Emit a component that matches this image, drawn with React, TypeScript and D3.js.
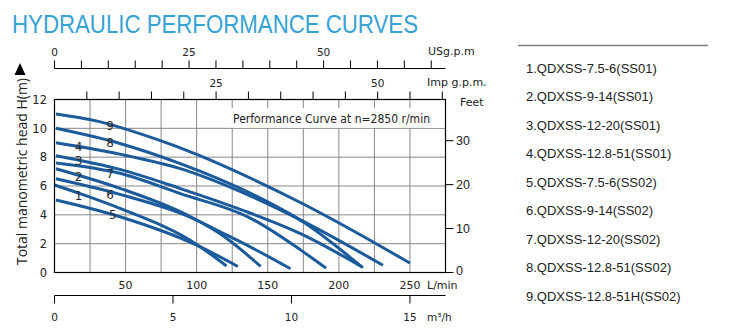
import React from 'react';
import * as d3 from 'd3';

const W = 734;
const H = 330;

// ---- data (Q in L/min, H in m) ----
const curve1: [number, number][] = [[0, 6.07], [20, 5.4], [46, 4.45], [100, 1.95], [121, 0.45]];
const curve2: [number, number][] = [[1, 7.2], [46, 5.84], [95, 3.9], [120, 2.45], [145, 0.42]];
const curve3: [number, number][] = [[1, 8.1], [46, 7.15], [88, 5.84], [138, 4.11], [173, 2.7], [217, 0.35]];
const curve4: [number, number][] = [[1, 9.0], [46, 8.21], [88, 7.22], [138, 5.3], [175, 3.55], [231, 0.5]];
const curve5: [number, number][] = [[1, 5.03], [46, 3.87], [100, 1.9], [129, 0.42]];
const curve6: [number, number][] = [[1, 6.5], [46, 5.42], [95, 3.86], [120, 2.65], [138, 1.76], [166, 0.26]];
const curve7: [number, number][] = [[1, 7.6], [46, 6.88], [88, 5.49], [138, 3.76], [173, 1.57], [191, 0.3]];
const curve8: [number, number][] = [[1, 10.0], [46, 8.95], [88, 7.57], [138, 5.49], [175, 3.5], [216, 0.4]];
const curve9: [number, number][] = [[1, 11.0], [30, 10.5], [70, 9.3], [100, 8.2], [140, 6.45], [175, 4.75], [210, 2.9], [250, 0.65]];
const curves = [curve1, curve2, curve3, curve4, curve5, curve6, curve7, curve8, curve9];

const curveLabels = ['1', '2', '3', '4', '5', '6', '7', '8', '9'];
const labelQ = [17, 17, 17, 17, 41, 39, 39, 39, 39];
const labelH = [5.33, 6.64, 7.75, 8.72, 3.99, 5.43, 6.83, 9.02, 10.2];

const legendLabels = [
  '1.QDXSS-7.5-6(SS01)',
  '2.QDXSS-9-14(SS01)',
  '3.QDXSS-12-20(SS01)',
  '4.QDXSS-12.8-51(SS01)',
  '5.QDXSS-7.5-6(SS02)',
  '6.QDXSS-9-14(SS02)',
  '7.QDXSS-12-20(SS02)',
  '8.QDXSS-12.8-51(SS02)',
  '9.QDXSS-12.8-51H(SS02)',
];

const headTicks = [0, 2, 4, 6, 8, 10, 12];
const feetTicks = [0, 10, 20, 30];
const lpmGrid = [25, 50, 75, 100, 125, 150, 175, 200, 225, 250];
const lpmLabels = [50, 100, 150, 200, 250];
const usTicks = d3.range(0, 71, 5);
const usLabels = [0, 25, 50];
const impTicks = d3.range(5, 61, 5);
const impLabels = [25, 50];
const m3hTicks = [0, 5, 10, 15];

const US_GPM = 3.78541;
const IMP_GPM = 4.54609;
const M3H = 1000 / 60;
const FT = 3.28084;

const left = 54.5, right = 445.5, top = 99.5, bottom = 272.5;

export default function App() {
  const x = d3.scaleLinear().domain([0, 275]).range([left, right]);
  const y = d3.scaleLinear().domain([0, 12]).range([bottom, top]);
  const line = d3.line<[number, number]>()
    .x(d => x(d[0]))
    .y(d => y(d[1]))
    .curve(d3.curveMonotoneX);

  const tickFont = 'DejaVu Sans, Verdana, sans-serif';
  const usY = 68.5;
  const m3Y = 295.5;
  const legendY0 = 68.3;
  const legendStep = 28.45;

  return (
    <svg width={W} height={H} style={{ position: 'absolute', left: 0, top: 0, background: '#fff' }}>
      <rect x={0} y={0} width={W} height={H} fill="#fff" />
      {/* Title */}
      <text x={12} y={33} fontFamily="Liberation Sans, Arial, sans-serif" fontSize={25}
        fill="#36a2d6" textLength={406} lengthAdjust="spacingAndGlyphs">HYDRAULIC PERFORMANCE CURVES</text>

      {/* Grid */}
      {lpmGrid.map(v => (
        <line key={'gx' + v} x1={x(v)} x2={x(v)} y1={top} y2={bottom} stroke="#888" strokeWidth={1} />
      ))}
      {headTicks.filter(v => v > 0 && v < 12).map(v => (
        <line key={'gy' + v} x1={left} x2={right} y1={y(v)} y2={y(v)} stroke="#888" strokeWidth={1} />
      ))}
      {/* box behind the performance text */}
      <rect x={230.5} y={108} width={right - 231} height={y(10) - 108.5} fill="#fff" />
      <text x={233} y={123.2} fontFamily={tickFont} fontSize={11.5} fill="#222"
        textLength={197} lengthAdjust="spacingAndGlyphs">Performance Curve at n=2850 r/min</text>

      {/* Curves */}
      {curves.map((c, i) => (
        <path key={'c' + i} d={line(c) || ''} fill="none" stroke="#1b5b9c" strokeWidth={3} strokeLinecap="butt" />
      ))}
      {curveLabels.map((l, i) => (
        <text key={'l' + i} x={x(labelQ[i])} y={y(labelH[i]) + 4.4} textAnchor="middle"
          fontFamily={tickFont} fontSize={12} fill="#2a2a2a">{l}</text>
      ))}

      {/* Frame */}
      <rect x={left} y={top} width={right - left} height={bottom - top} fill="none" stroke="#000" strokeWidth={1.2} />

      {/* Left axis labels */}
      {headTicks.map(v => (
        <text key={'hy' + v} x={47} y={y(v) + 4.2} textAnchor="end" fontFamily={tickFont} fontSize={11.5} fill="#222">{v}</text>
      ))}
      <text transform={`translate(26.5,171.5) rotate(-90)`} textAnchor="middle" fontFamily="Open Sans, DejaVu Sans, sans-serif"
        fontSize={14} fill="#222" textLength={187} lengthAdjust="spacingAndGlyphs">Total manometric head H(m)</text>
      <path d="M20,63 L25.5,75 L14.5,75 Z" fill="#000" />

      {/* Right feet axis */}
      {feetTicks.map(v => (
        <g key={'ft' + v}>
          <line x1={right} x2={right + 8} y1={y(v / FT)} y2={y(v / FT)} stroke="#000" strokeWidth={1} />
          <text x={456} y={y(v / FT) + (v === 0 ? 2 : 4.5)} fontFamily="Liberation Sans, Arial, sans-serif" fontSize={12.5} fill="#222">{v}</text>
        </g>
      ))}
      <text x={460} y={105.5} fontFamily={tickFont} fontSize={11} fill="#222">Feet</text>

      {/* Bottom L/min labels */}
      {lpmLabels.map(v => (
        <text key={'lx' + v} x={x(v)} y={289} textAnchor="middle" fontFamily={tickFont} fontSize={11} fill="#222">{v}</text>
      ))}
      <text x={427} y={289} fontFamily={tickFont} fontSize={11} fill="#222">L/min</text>

      {/* US gpm axis */}
      <line x1={left} x2={right} y1={usY} y2={usY} stroke="#000" strokeWidth={1.2} />
      {usTicks.map(v => (
        <line key={'us' + v} x1={x(v * US_GPM)} x2={x(v * US_GPM)} y1={usY - 8} y2={usY} stroke="#000" strokeWidth={1} />
      ))}
      {usLabels.map(v => (
        <text key={'usl' + v} x={x(v * US_GPM)} y={55.5} textAnchor="middle" fontFamily={tickFont} fontSize={10.5} fill="#222">{v}</text>
      ))}
      <text x={428} y={54.5} fontFamily={tickFont} fontSize={11} fill="#222">USg.p.m</text>

      {/* Imp gpm axis */}
      {impTicks.map(v => (
        <line key={'imp' + v} x1={x(v * IMP_GPM)} x2={x(v * IMP_GPM)} y1={top - 8} y2={top} stroke="#000" strokeWidth={1} />
      ))}
      {impLabels.map(v => (
        <text key={'impl' + v} x={x(v * IMP_GPM)} y={87} textAnchor="middle" fontFamily={tickFont} fontSize={10.5} fill="#222">{v}</text>
      ))}
      <text x={427} y={86} fontFamily={tickFont} fontSize={11} fill="#222">Imp g.p.m.</text>

      {/* m3/h axis */}
      <line x1={left} x2={right} y1={m3Y} y2={m3Y} stroke="#000" strokeWidth={1.2} />
      {m3hTicks.map(v => (
        <g key={'m3' + v}>
          <line x1={x(v * M3H)} x2={x(v * M3H)} y1={m3Y} y2={m3Y + 8} stroke="#000" strokeWidth={1} />
          <text x={x(v * M3H)} y={321} textAnchor="middle" fontFamily={tickFont} fontSize={10.5} fill="#222">{v}</text>
        </g>
      ))}
      <text x={427} y={321} fontFamily={tickFont} fontSize={10.5} fill="#222">m³/h</text>

      {/* Legend */}
      <line x1={518} x2={708} y1={45.5} y2={45.5} stroke="#808080" strokeWidth={1.5} />
      {legendLabels.map((l, i) => (
        <text key={'lg' + i} x={526} y={legendY0 + i * legendStep + 4.6} fontFamily="Liberation Sans, Arial, sans-serif"
          fontSize={13} fill="#222">{l}</text>
      ))}
    </svg>
  );
}
